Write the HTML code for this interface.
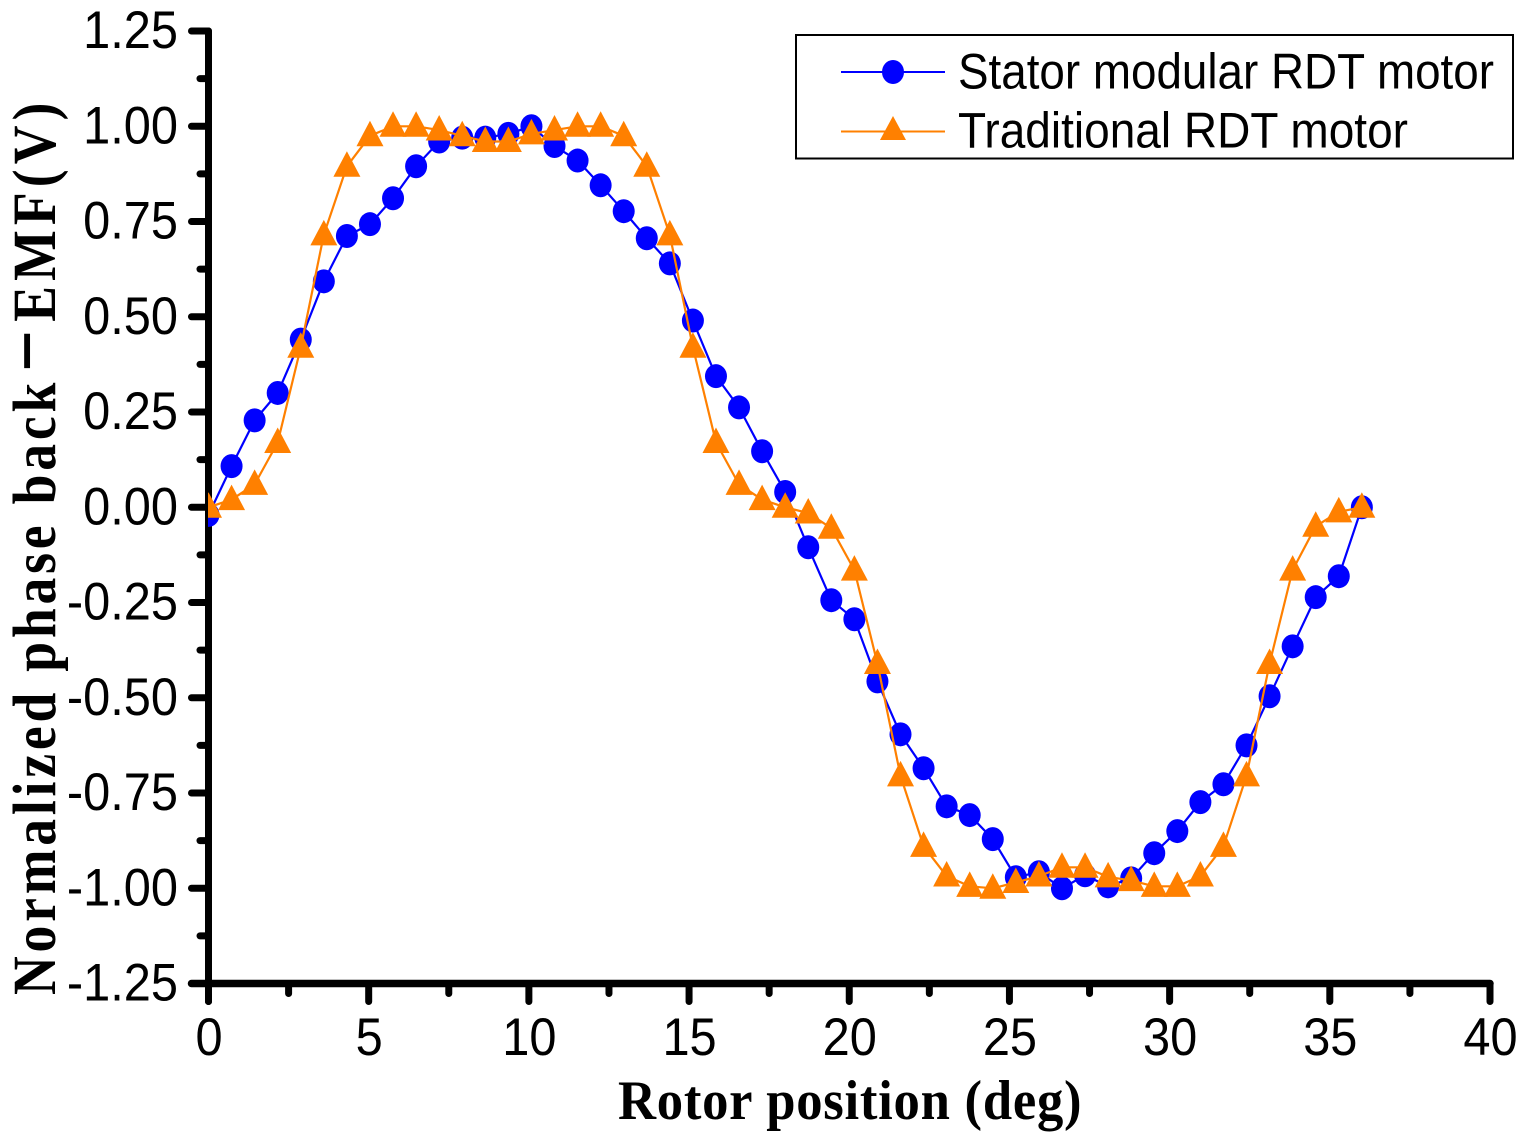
<!DOCTYPE html>
<html lang="en">
<head>
<meta charset="utf-8">
<title>Normalized phase back-EMF vs rotor position</title>
<style>
html,body{margin:0;padding:0;background:#fff;width:1528px;height:1140px;overflow:hidden}
svg{display:block}
text{fill:#000}
.tick{font-family:"Liberation Sans",sans-serif;font-size:53px}
.title{font-family:"Liberation Serif",serif;font-weight:bold;font-size:61px}
.leg{font-family:"Liberation Sans",sans-serif;font-size:50px}
</style>
</head>
<body>
<svg id="chart" xmlns="http://www.w3.org/2000/svg" width="1528" height="1140" viewBox="0 0 1528 1140">
  <defs>
    <clipPath id="plot-clip"><rect x="208" y="0" width="1320" height="1140"/></clipPath>
  </defs>
  <g id="axes"></g>
  <g id="series-lines" clip-path="url(#plot-clip)"></g>
  <g id="series-marks" clip-path="url(#plot-clip)"></g>
  <text class="title" transform="translate(55,995) rotate(-90) scale(0.88,1)" style="letter-spacing:4.3px"><tspan x="0">Normalized phase back</tspan><tspan x="708" style="font-size:84px;letter-spacing:0">−</tspan><tspan x="765" style="letter-spacing:5.8px">EMF(V)</tspan></text>
  <text class="title" transform="translate(618,1119) scale(0.94,1)" style="font-size:56px;letter-spacing:0.8px">Rotor position (deg)</text>
  <g>
    <rect x="796" y="35" width="717" height="123.5" fill="#fff" stroke="#000" stroke-width="2"/>
    <g>
      <line x1="841" y1="72" x2="945" y2="72" stroke="#0000ff" stroke-width="2"/>
      <ellipse cx="893" cy="72" rx="11" ry="12" fill="#0000ff"/>
      <text class="leg" x="958" y="88.5" textLength="536" lengthAdjust="spacingAndGlyphs">Stator modular RDT motor</text>
    </g>
    <g>
      <line x1="841" y1="131.5" x2="945" y2="131.5" stroke="#ff8000" stroke-width="2"/>
      <polygon points="893,116 906,140 880,140" fill="#ff8000"/>
      <text class="leg" x="958" y="147.5" textLength="450" lengthAdjust="spacingAndGlyphs">Traditional RDT motor</text>
    </g>
  </g>
</svg>
<script>
const rotorPosition = [0,0.72,1.44,2.16,2.88,3.6,4.32,5.04,5.76,6.48,7.2,7.92,8.64,9.36,10.08,10.8,11.52,12.24,12.96,13.68,14.4,15.12,15.84,16.56,17.28,18,18.72,19.44,20.16,20.88,21.6,22.32,23.04,23.76,24.48,25.2,25.92,26.64,27.36,28.08,28.8,29.52,30.24,30.96,31.68,32.4,33.12,33.84,34.56,35.28,36];
const statorModular = [-0.02,0.108,0.228,0.30,0.44,0.593,0.712,0.743,0.811,0.895,0.96,0.97,0.97,0.98,1.0,0.948,0.91,0.845,0.777,0.706,0.64,0.49,0.344,0.262,0.147,0.04,-0.105,-0.244,-0.294,-0.457,-0.596,-0.685,-0.785,-0.808,-0.871,-0.971,-0.958,-1.0,-0.966,-0.995,-0.974,-0.908,-0.85,-0.774,-0.727,-0.625,-0.496,-0.365,-0.236,-0.181,0];
const traditional = [0,0.02,0.06,0.17,0.42,0.715,0.895,0.975,1.0,1.0,0.99,0.975,0.96,0.96,0.98,0.99,1.0,1.0,0.975,0.895,0.715,0.42,0.17,0.06,0.02,0,-0.015,-0.055,-0.165,-0.41,-0.705,-0.89,-0.968,-0.995,-1.0,-0.985,-0.968,-0.945,-0.945,-0.97,-0.98,-0.995,-0.995,-0.968,-0.89,-0.705,-0.41,-0.165,-0.05,-0.012,0];
const xTickLabels = ["0","5","10","15","20","25","30","35","40"];
const yTickLabels = ["1.25","1.00","0.75","0.50","0.25","0.00","-0.25","-0.50","-0.75","-1.00","-1.25"];

const NS = "http://www.w3.org/2000/svg";
const X0 = 208.5, X1 = 1490, XMIN = 0, XMAX = 40;
const Y0 = 983.5, Y1 = 31, YMIN = -1.25, YMAX = 1.25;
function sx(v){ return X0 + (v - XMIN) / (XMAX - XMIN) * (X1 - X0); }
function sy(v){ return Y0 - (v - YMIN) / (YMAX - YMIN) * (Y0 - Y1); }
function mk(tag, attrs, parent){
  const el = document.createElementNS(NS, tag);
  for (const k in attrs) el.setAttribute(k, attrs[k]);
  parent.appendChild(el);
  return el;
}
const axes = document.getElementById("axes");
const lines = document.getElementById("series-lines");
const marks = document.getElementById("series-marks");
const axisStyle = {stroke:"#000","stroke-linecap":"round"};

const xAxisLine = mk("line", Object.assign({x1:sx(XMIN)-17,y1:Y0,x2:sx(XMAX),y2:Y0,"stroke-width":7.5}, axisStyle), axes);


const yAxisLine = mk("line", Object.assign({x1:X0,y1:sy(YMIN)+18,x2:X0,y2:sy(YMAX),"stroke-width":7}, axisStyle), axes);



xTickLabels.forEach(function(lab){
  const v = Number(lab);
  const t = mk("line", Object.assign({x1:sx(v),y1:Y0,x2:sx(v),y2:1001.5,"stroke-width":7}, axisStyle), axes);
  
  
  if (v < XMAX) {
    const m = mk("line", Object.assign({x1:sx(v+2.5),y1:Y0,x2:sx(v+2.5),y2:993.5,"stroke-width":7}, axisStyle), axes);
    
    
  }
  const txt = mk("text", {"class":"tick","text-anchor":"middle",transform:"translate("+(sx(v)+0.5)+",1055) scale(0.92,1)"}, axes);
  txt.textContent = lab;
  
  
});
yTickLabels.forEach(function(lab){
  const v = Number(lab);
  const t = mk("line", Object.assign({x1:191.5,y1:sy(v),x2:X0,y2:sy(v),"stroke-width":7}, axisStyle), axes);
  
  
  if (v > YMIN) {
    const m = mk("line", Object.assign({x1:200,y1:sy(v-0.125),x2:X0,y2:sy(v-0.125),"stroke-width":7}, axisStyle), axes);
    
    
  }
  const txt = mk("text", {"class":"tick","text-anchor":"end",transform:"translate(178,"+(sy(v)+17)+") scale(0.92,1)"}, axes);
  txt.textContent = lab;
  
  
});

function polyPoints(values){
  return values.map(function(v,i){ return sx(rotorPosition[i]).toFixed(1)+","+sy(v).toFixed(1); }).join(" ");
}
const blueLine = mk("polyline", {points:polyPoints(statorModular),fill:"none",stroke:"#0000ff","stroke-width":2.2}, lines);


statorModular.forEach(function(v,i){
  const c = mk("ellipse", {cx:sx(rotorPosition[i]),cy:sy(v),rx:11,ry:12,fill:"#0000ff"}, marks);
  
  
});
const orangeLine = mk("polyline", {points:polyPoints(traditional),fill:"none",stroke:"#ff8000","stroke-width":2.2}, marks);


traditional.forEach(function(v,i){
  const x = sx(rotorPosition[i]), y = sy(v);
  const p = mk("polygon", {points:x+","+(y-15)+" "+(x+13.5)+","+(y+10.5)+" "+(x-13.5)+","+(y+10.5),fill:"#ff8000"}, marks);
  
  
});
</script>
</body>
</html>
